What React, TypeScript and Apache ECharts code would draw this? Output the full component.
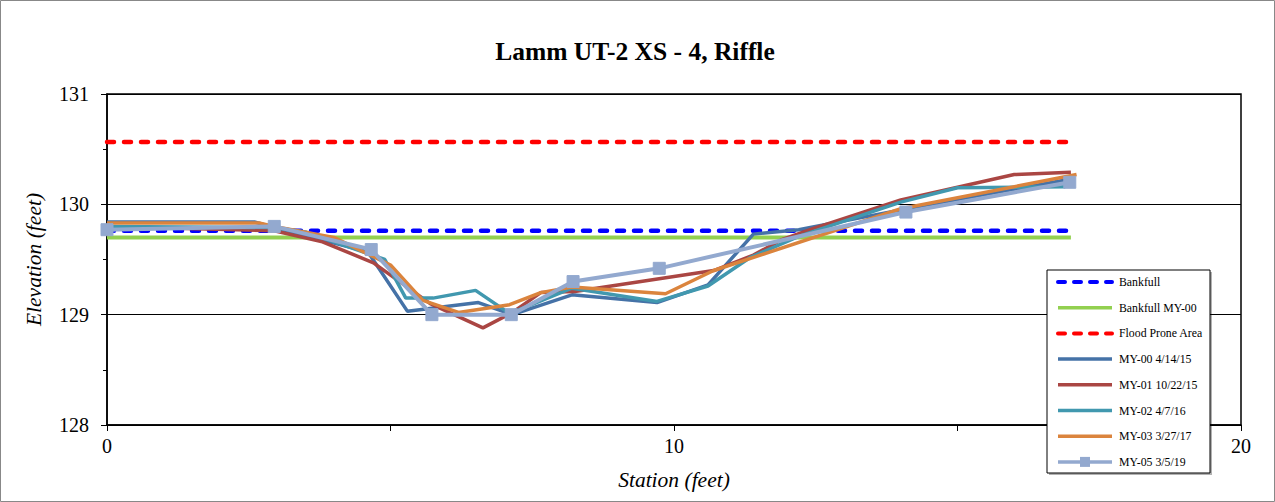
import React, { useEffect, useRef } from "react";
import * as echarts from "echarts";

const TITLE = "Lamm UT-2 XS - 4, Riffle";
const X_NAME = "Station (feet)";
const Y_NAME = "Elevation (feet)";

const BANKFULL = 129.76;
const BANKFULL_MY00 = 129.7;
const FLOOD_PRONE = 130.565;
const REF_X = [0, 17];

const MY00_X = [0, 2.6, 2.95, 4.6, 5.3, 6.55, 7.15, 8.2, 9.7, 10.6, 11.4, 12.2, 14.0, 17.0];
const MY00_Y = [129.84, 129.84, 129.79, 129.57, 129.03, 129.11, 129.0, 129.18, 129.11, 129.27, 129.73, 129.77, 129.95, 130.23];

const MY01_X = [0, 2.95, 3.8, 4.7, 5.7, 6.63, 7.15, 7.65, 8.25, 10.7, 11.4, 11.9, 12.45, 14.0, 16.0, 17.0];
const MY01_Y = [129.8, 129.76, 129.66, 129.47, 129.1, 128.88, 129.02, 129.2, 129.21, 129.4, 129.54, 129.68, 129.78, 130.04, 130.27, 130.29];

const MY02_X = [0, 2.95, 3.5, 4.9, 5.27, 5.75, 6.5, 7.1, 8.2, 9.7, 10.6, 11.35, 12.2, 14.0, 15.0, 16.9];
const MY02_Y = [129.8, 129.79, 129.75, 129.5, 129.15, 129.15, 129.22, 129.01, 129.24, 129.12, 129.26, 129.52, 129.71, 130.02, 130.15, 130.16];

const MY03_X = [0, 2.7, 2.95, 4.0, 5.0, 5.57, 6.2, 7.1, 7.65, 8.2, 9.85, 10.7, 14.0, 17.1];
const MY03_Y = [129.83, 129.83, 129.8, 129.7, 129.45, 129.13, 129.02, 129.09, 129.2, 129.25, 129.19, 129.4, 129.96, 130.27];

const MY05_X = [0, 2.95, 4.66, 5.73, 7.13, 8.22, 9.74, 14.09, 16.98];
const MY05_Y = [129.77, 129.8, 129.59, 129.0, 129.0, 129.3, 129.42, 129.93, 130.2];

const SERIES_NAMES = [
  "Bankfull",
  "Bankfull MY-00",
  "Flood Prone Area",
  "MY-00 4/14/15",
  "MY-01 10/22/15",
  "MY-02 4/7/16",
  "MY-03 3/27/17",
  "MY-05 3/5/19",
];
const SERIES_COLORS = ["#0000FF", "#92D050", "#FF0000", "#4572A7", "#AA4643", "#4198AF", "#DB843D", "#93A9CF"];
const SERIES_DASHED = [true, false, true, false, false, false, false, false];

const zip = (xs: number[], ys: number[]) => xs.map((x, i) => [x, ys[i]]);

const FONT = "Liberation Serif";

export default function App() {
  const ref = useRef<HTMLDivElement>(null);

  useEffect(() => {
    document.body.style.margin = "0";
    const chart = echarts.init(ref.current!, null, { renderer: "svg" });

    const refLine = (i: number, v: number, width: number) => ({
      name: SERIES_NAMES[i],
      type: "line",
      data: REF_X.map((x) => [x, v]),
      symbol: "none",
      lineStyle: {
        color: SERIES_COLORS[i],
        width,
        type: SERIES_DASHED[i] ? [7, 10] : "solid",
        cap: SERIES_DASHED[i] ? "round" : "butt",
      },
      itemStyle: { color: SERIES_COLORS[i] },
      z: 2,
    });

    const dataLine = (i: number, xs: number[], ys: number[], marker = false) => ({
      name: SERIES_NAMES[i],
      type: "line",
      data: zip(xs, ys),
      symbol: marker ? "rect" : "none",
      symbolSize: 12,
      showSymbol: marker,
      lineStyle: { color: SERIES_COLORS[i], width: marker ? 4 : 3.5 },
      itemStyle: { color: SERIES_COLORS[i], borderColor: SERIES_COLORS[i] },
      z: 3,
    });

    // Legend drawn with graphic elements
    const LX = 1047;
    const LY = 270;
    const LW = 163;
    const LH = 203;
    const legendEls: any[] = [
      {
        type: "rect",
        shape: { x: LX + 2, y: LY + 2, width: LW, height: LH },
        style: { fill: "rgba(0,0,0,0.3)" },
        silent: true,
        z: 100,
      },
      {
        type: "rect",
        shape: { x: LX, y: LY, width: LW, height: LH },
        style: { fill: "#fff", stroke: "#000", lineWidth: 1 },
        silent: true,
        z: 101,
      },
    ];
    SERIES_NAMES.forEach((name, i) => {
      const cy = 282 + i * 25.7;
      const dashed = SERIES_DASHED[i];
      legendEls.push({
        type: "line",
        shape: { x1: 1058, y1: cy, x2: 1112, y2: cy },
        style: {
          stroke: SERIES_COLORS[i],
          lineWidth: dashed ? 4 : 3.5,
          lineDash: dashed ? [7, 9] : null,
          lineCap: dashed ? "round" : "butt",
        },
        silent: true,
        z: 102,
      });
      if (i === 7) {
        legendEls.push({
          type: "rect",
          shape: { x: 1080, y: cy - 5, width: 10, height: 10 },
          style: { fill: SERIES_COLORS[i] },
          silent: true,
          z: 103,
        });
      }
      legendEls.push({
        type: "text",
        x: 1119,
        y: cy,
        style: {
          text: name,
          fill: "#000",
          font: `11.8px ${FONT}`,
          verticalAlign: "middle",
          align: "left",
        },
        silent: true,
        z: 102,
      });
    });

    chart.setOption({
      animation: false,
      backgroundColor: "#fff",
      textStyle: { fontFamily: FONT },
      title: {
        text: TITLE,
        left: 630,
        textAlign: "center",
        top: 33,
        textStyle: { fontFamily: FONT, fontSize: 25.5, fontWeight: "bold", color: "#000" },
      },
      graphic: [
        {
          type: "rect",
          shape: { x: 0.5, y: 0.5, width: 1274, height: 501 },
          style: { fill: "none", stroke: "#888", lineWidth: 1 },
          silent: true,
        },
        ...legendEls,
      ],
      grid: {
        left: 107,
        right: 34,
        top: 94,
        bottom: 77,
        show: true,
        borderColor: "#000",
        borderWidth: 1.5,
        backgroundColor: "transparent",
      },
      xAxis: {
        type: "value",
        min: 0,
        max: 20,
        interval: 5,
        name: X_NAME,
        nameLocation: "middle",
        nameGap: 44,
        nameTextStyle: { fontFamily: FONT, fontSize: 21.5, fontStyle: "italic", color: "#000" },
        axisLine: { show: true, onZero: false, lineStyle: { color: "#000", width: 1.5 } },
        axisTick: { show: true, length: 6, lineStyle: { color: "#000" } },
        axisLabel: {
          fontFamily: FONT,
          fontSize: 20,
          color: "#000",
          margin: 11,
          formatter: (v: number) => (v % 10 === 0 ? String(v) : ""),
        },
        splitLine: { show: false },
      },
      yAxis: {
        type: "value",
        min: 128,
        max: 131,
        interval: 1,
        name: Y_NAME,
        nameLocation: "middle",
        nameGap: 62,
        nameTextStyle: { fontFamily: FONT, fontSize: 21.5, fontStyle: "italic", color: "#000" },
        axisLine: { show: true, onZero: false, lineStyle: { color: "#000", width: 1.5 } },
        axisTick: { show: true, length: 6, lineStyle: { color: "#000" } },
        minorTick: { show: true, splitNumber: 2, length: 4, lineStyle: { color: "#000" } },
        axisLabel: { fontFamily: FONT, fontSize: 20, color: "#000", margin: 18 },
        splitLine: { show: true, lineStyle: { color: "#000", width: 1 } },
      },
      series: [
        refLine(0, BANKFULL, 4.5),
        refLine(1, BANKFULL_MY00, 4),
        refLine(2, FLOOD_PRONE, 4.5),
        dataLine(3, MY00_X, MY00_Y),
        dataLine(4, MY01_X, MY01_Y),
        dataLine(5, MY02_X, MY02_Y),
        dataLine(6, MY03_X, MY03_Y),
        dataLine(7, MY05_X, MY05_Y, true),
      ],
    });

    return () => chart.dispose();
  }, []);

  return <div ref={ref} style={{ width: 1275, height: 502 }} />;
}
